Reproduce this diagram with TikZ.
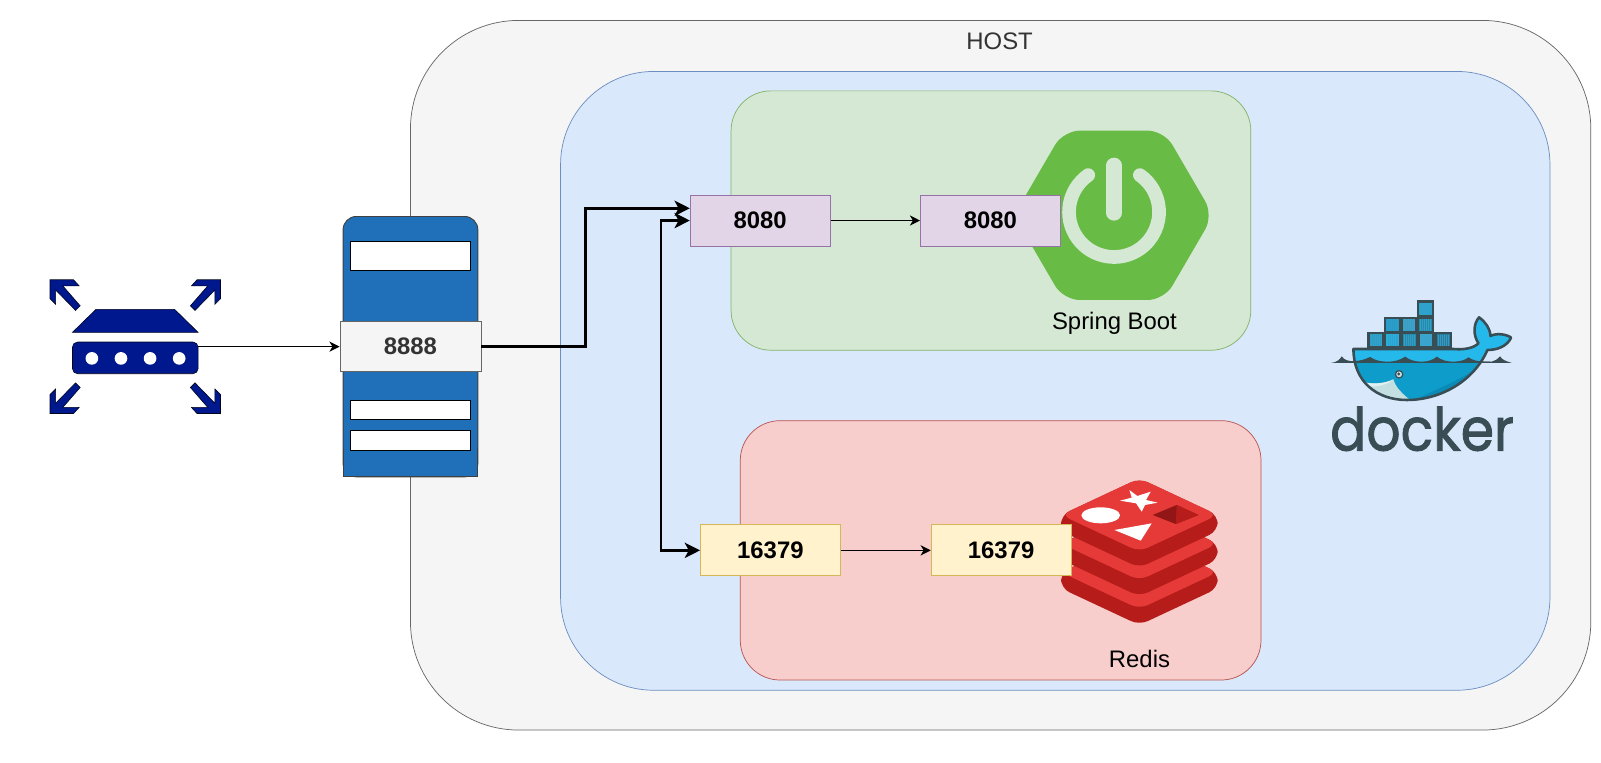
\documentclass[tikz,border=0pt]{standalone}
\usepackage{fontspec}
\usepackage{graphicx}
\setmainfont{Liberation Sans}
\newfontfamily\dockerfont[FakeBold=1.6]{Poppins}
\usetikzlibrary{arrows.meta}
\definecolor{navyblue}{HTML}{00188D}
\definecolor{dockdark}{HTML}{394D54}
\definecolor{springgreen}{HTML}{68BC45}
\definecolor{ringgreen}{HTML}{D5E8D4}
\definecolor{greenline}{HTML}{82B366}
\definecolor{redislight}{HTML}{E53A37}
\definecolor{redisdark}{HTML}{B51C1A}
\definecolor{bluefill}{HTML}{DAE8FC}
\definecolor{blueline}{HTML}{6C8EBF}
\definecolor{redfill}{HTML}{F8CECC}
\definecolor{redline}{HTML}{B85450}
\definecolor{purplefill}{HTML}{E1D5E7}
\definecolor{purpleline}{HTML}{9673A6}
\definecolor{yellowfill}{HTML}{FFF2CC}
\definecolor{yellowline}{HTML}{D6B656}
\definecolor{serverblue}{HTML}{1F70B8}
\definecolor{whalesky}{HTML}{24B8EB}
\definecolor{whalemid}{HTML}{0E9DCB}
\definecolor{whaledeep}{HTML}{0A8AB6}
\definecolor{bellya}{HTML}{C4DFE1}
\definecolor{bellyb}{HTML}{E1F1F1}
\definecolor{eyefill}{HTML}{CDE4EB}
\newcommand{\labelsize}{\fontsize{23.4}{28}\selectfont}
\newcommand{\hullpath}{(190,192) -- (490,192) .. controls (520,195) and (550,190) .. (565,175) .. controls (548,150) and (550,115) .. (567,97) .. controls (585,110) and (600,130) .. (601,153) .. controls (620,143) and (650,148) .. (663,158) .. controls (650,185) and (620,195) .. (592,195) .. controls (550,290) and (450,345) .. (350,345) .. controls (260,345) and (190,290) .. (190,192) -- cycle}
\newcommand{\wavepath}{(190,234) -- (190,228) .. controls (215,228) and (225,222) .. (240,216) .. controls (255,226) and (270,230) .. (292,230) .. controls (315,230) and (330,225) .. (345,215) .. controls (360,226) and (375,230) .. (395,230) .. controls (415,230) and (430,224) .. (440,215) .. controls (455,226) and (470,230) .. (490,230) .. controls (510,230) and (525,225) .. (535,217) .. controls (548,226) and (560,230) .. (600,230) -- (600,234) -- cycle}
\newcommand{\dockcell}[3]{%
  \fill[dockdark] (#1,#2) rectangle ++(52,50);
  \fill[#3] (#1+7,#2+7) rectangle ++(38,36);
  \foreach \s in {12,18,24,30,36,41}{\draw[line width=.7pt,cyan!45!#3] (#1+\s,#2+8) -- ++(0,34);}
}
\newcommand{\redislayer}[1]{%
  \fill[redisdark,rounded corners=9pt] (123,165+#1) -- (123,213+#1) -- (358,323+#1) -- (593,213+#1) -- (593,165+#1) -- (358,55+#1) -- cycle;
  \fill[redislight,rounded corners=9pt] (123,165+#1) -- (358,275+#1) -- (593,165+#1) -- (358,55+#1) -- cycle;
}
\tikzset{
  x=1pt,y=-1pt,
  zone/.style={draw=#1,line width=.7pt,inner sep=0pt},
  port/.style={rectangle,draw=#1,line width=.8pt,inner sep=0pt,minimum width=137pt,minimum height=50pt,font=\labelsize\bfseries},
  caption/.style={inner sep=0pt,font=\labelsize},
  thin link/.style={line width=1.2pt,-{Stealth[length=10pt,width=10pt,inset=3pt]}},
  thick link/.style={line width=2.4pt,-{Stealth[length=15pt,width=15pt,inset=4pt]}},
  both link/.style={line width=2.4pt,{Stealth[length=15pt,width=15pt,inset=4pt]}-{Stealth[length=15pt,width=15pt,inset=4pt]}},
  serverbar/.style={rectangle,draw=black,fill=white,line width=.8pt,inner sep=0pt,minimum width=118pt},
  navypart/.style={fill=navyblue,draw=black!80!navyblue,line width=.6pt},
}
\begin{document}
\begin{tikzpicture}
\useasboundingbox[fill=white] (0,0) rectangle (1568,746.3);

% nested zones
\node[zone=black!60,fill=black!4,rounded corners=106pt,minimum width=1156pt,minimum height=695pt] (host) at (980,367.5) {};
\node[caption,text=black!80] (hostlabel) at (979,40) {HOST};
\node[zone=blueline,fill=bluefill,rounded corners=91pt,minimum width=969pt,minimum height=606pt] (dockerzone) at (1033.5,373) {};
\node[zone=greenline,fill=ringgreen,rounded corners=39pt,minimum width=509pt,minimum height=254pt] (springzone) at (970.5,216) {};
\node[zone=redline,fill=redfill,rounded corners=39pt,minimum width=510pt,minimum height=254pt] (rediszone) at (980,539) {};

% spring logo
\begin{scope}[shift={(1018.6,117.5)},scale=.3265]
  \fill[springgreen,rounded corners=16pt] (372,32) -- (520,286) -- (372,540) -- (70,540) -- (-78,286) -- (70,32) -- cycle;
  \draw[ringgreen,line width=13.4pt,line cap=round] (222,276) ++(235:135) arc (235:-55:135);
  \draw[ringgreen,line width=15pt,line cap=round] (222,136) -- (222,279);
\end{scope}

% redis logo
\begin{scope}[shift={(999,450.5)},scale=.3265]
  \redislayer{172}
  \redislayer{86}
  \redislayer{0}
  \fill[white] (328,90) -- (352,108) -- (392,95) -- (378,120) -- (413,128) -- (375,135) -- (365,155) -- (348,130) -- (300,122) -- (335,113) -- cycle;
  \fill[white] (242,166) ellipse [x radius=58,y radius=24];
  \fill[white] (283,210) -- (395,190) -- (362,242) -- cycle;
  \fill[redisdark!80!black] (398,165) -- (470,135) -- (535,165) -- (467,192) -- cycle;
  \fill[redisdark] (470,135) -- (535,165) -- (467,192) -- cycle;
\end{scope}

% docker logo
\begin{scope}[shift={(1263.5,279.1)},scale=.3265]
  \foreach \cx/\cy/\cc in {380/46/2AA3C4,281/95/229CC0,331/95/3A9FBE,380/95/1F8FA8,232/141/2A9FBF,282/141/2AB0D6,332/141/1F8FAC,382/141/3BA7C6,434/141/237F9E}{
    \definecolor{cellcol}{HTML}{\cc}
    \dockcell{\cx}{\cy}{cellcol}
  }
  \fill[whalesky] \hullpath;
  \begin{scope}
    \clip \hullpath;
    \fill[whalemid] (170,232) rectangle (680,360);
    \fill[whaledeep] (358,350) .. controls (450,310) and (540,270) .. (585,232) -- (680,232) -- (680,360) -- cycle;
    \fill[bellya] (222,292) .. controls (250,298) and (285,296) .. (310,283) .. controls (315,305) and (335,325) .. (360,345) -- (200,360) -- cycle;
    \fill[bellyb] (222,292) .. controls (250,298) and (285,296) .. (310,283) .. controls (285,305) and (250,305) .. (235,304) -- cycle;
  \end{scope}
  \fill[dockdark] \wavepath;
  \fill[dockdark] (122,234) .. controls (140,232) and (148,225) .. (155,214) .. controls (162,226) and (175,228) .. (192,229) -- (192,234) -- cycle;
  \fill[dockdark] (570,230) -- (605,230) .. controls (615,228) and (622,222) .. (630,214) .. controls (636,224) and (645,228) .. (665,234) -- (570,234) -- cycle;
  \draw[dockdark,line width=2.5pt,line join=round] \hullpath;
  \fill[eyefill,draw=dockdark,line width=1.2pt] (327,268) circle (11);
  \fill[dockdark] (326,267) circle (5);
\end{scope}
\node[inner sep=0pt,anchor=west,text=dockdark] (dockerlabel) at (1302.5,420) {\resizebox{180pt}{43pt}{\dockerfont docker}};

% server
\node[rectangle,draw=black!75,fill=serverblue,line width=.9pt,minimum width=132pt,minimum height=255pt,inner sep=0pt,rounded corners=13pt] (server) at (402,339.5) {};
\fill[serverblue] (337,440) rectangle (467,466.5);
\draw[black!75,line width=.9pt] (336,440) -- (336,467) -- (468,467) -- (468,440);
\node[serverbar,minimum height=29pt] (slot1) at (402,250.5) {};
\node[serverbar,minimum height=19pt] (slot2) at (402,401.5) {};
\node[serverbar,minimum height=19pt] (slot3) at (402,431.5) {};
\node[port=black!60,fill=black!4,text=black!80,minimum width=138pt,minimum height=49pt] (p8888) at (402,339.5) {8888};

% router
\node[rectangle,navypart,rounded corners=5pt,minimum width=123pt,minimum height=31pt,inner sep=0pt] (router) at (132.5,350.5) {};
\foreach \dx in {90,118.5,147,175.5}{\fill[white] (\dx,351) circle (6.2);}
\fill[navypart] (71,325.5) -- (94,303) -- (171,303) -- (194,325.5) -- cycle;
\foreach \sx/\sy in {1/1,-1/1,1/-1,-1/-1}{
  \begin{scope}[shift={(132.5,339.5)},xscale=\sx,yscale=\sy]
    \fill[navypart] (-83.5,-65.5) -- (-60.5,-65.5) -- (-55,-59.5) -- (-71,-59.5) -- (-54,-40) -- (-58.5,-35.5) -- (-78,-55.5) -- (-78,-41.5) -- (-83.5,-47) -- cycle;
  \end{scope}
}

% ports
\node[port=purpleline,fill=purplefill] (outer8080) at (744.5,216) {8080};
\node[port=purpleline,fill=purplefill] (inner8080) at (970,216) {8080};
\node[port=yellowline,fill=yellowfill] (outer16379) at (754.5,539) {16379};
\node[port=yellowline,fill=yellowfill] (inner16379) at (980.5,539) {16379};

\node[caption] (springlabel) at (1091.5,317) {Spring Boot};
\node[caption] (redislabel) at (1116,645) {Redis};

% connectors
\coordinate (busA) at (573.5,204);
\coordinate (busB) at (647.5,216);
\coordinate (topin) at (outer8080.west |- busA);
\draw[thin link] (router.east |- p8888.west) -- (p8888.west);
\draw[thin link] (outer8080) -- (inner8080);
\draw[thin link] (outer16379) -- (inner16379);
\draw[thick link] (p8888.east) -- (p8888.east -| busA) -- (busA) -- (topin);
\draw[both link] (outer16379.west) -- (outer16379.west -| busB) -- (busB) -- (outer8080.west |- busB);
\end{tikzpicture}
\end{document}
